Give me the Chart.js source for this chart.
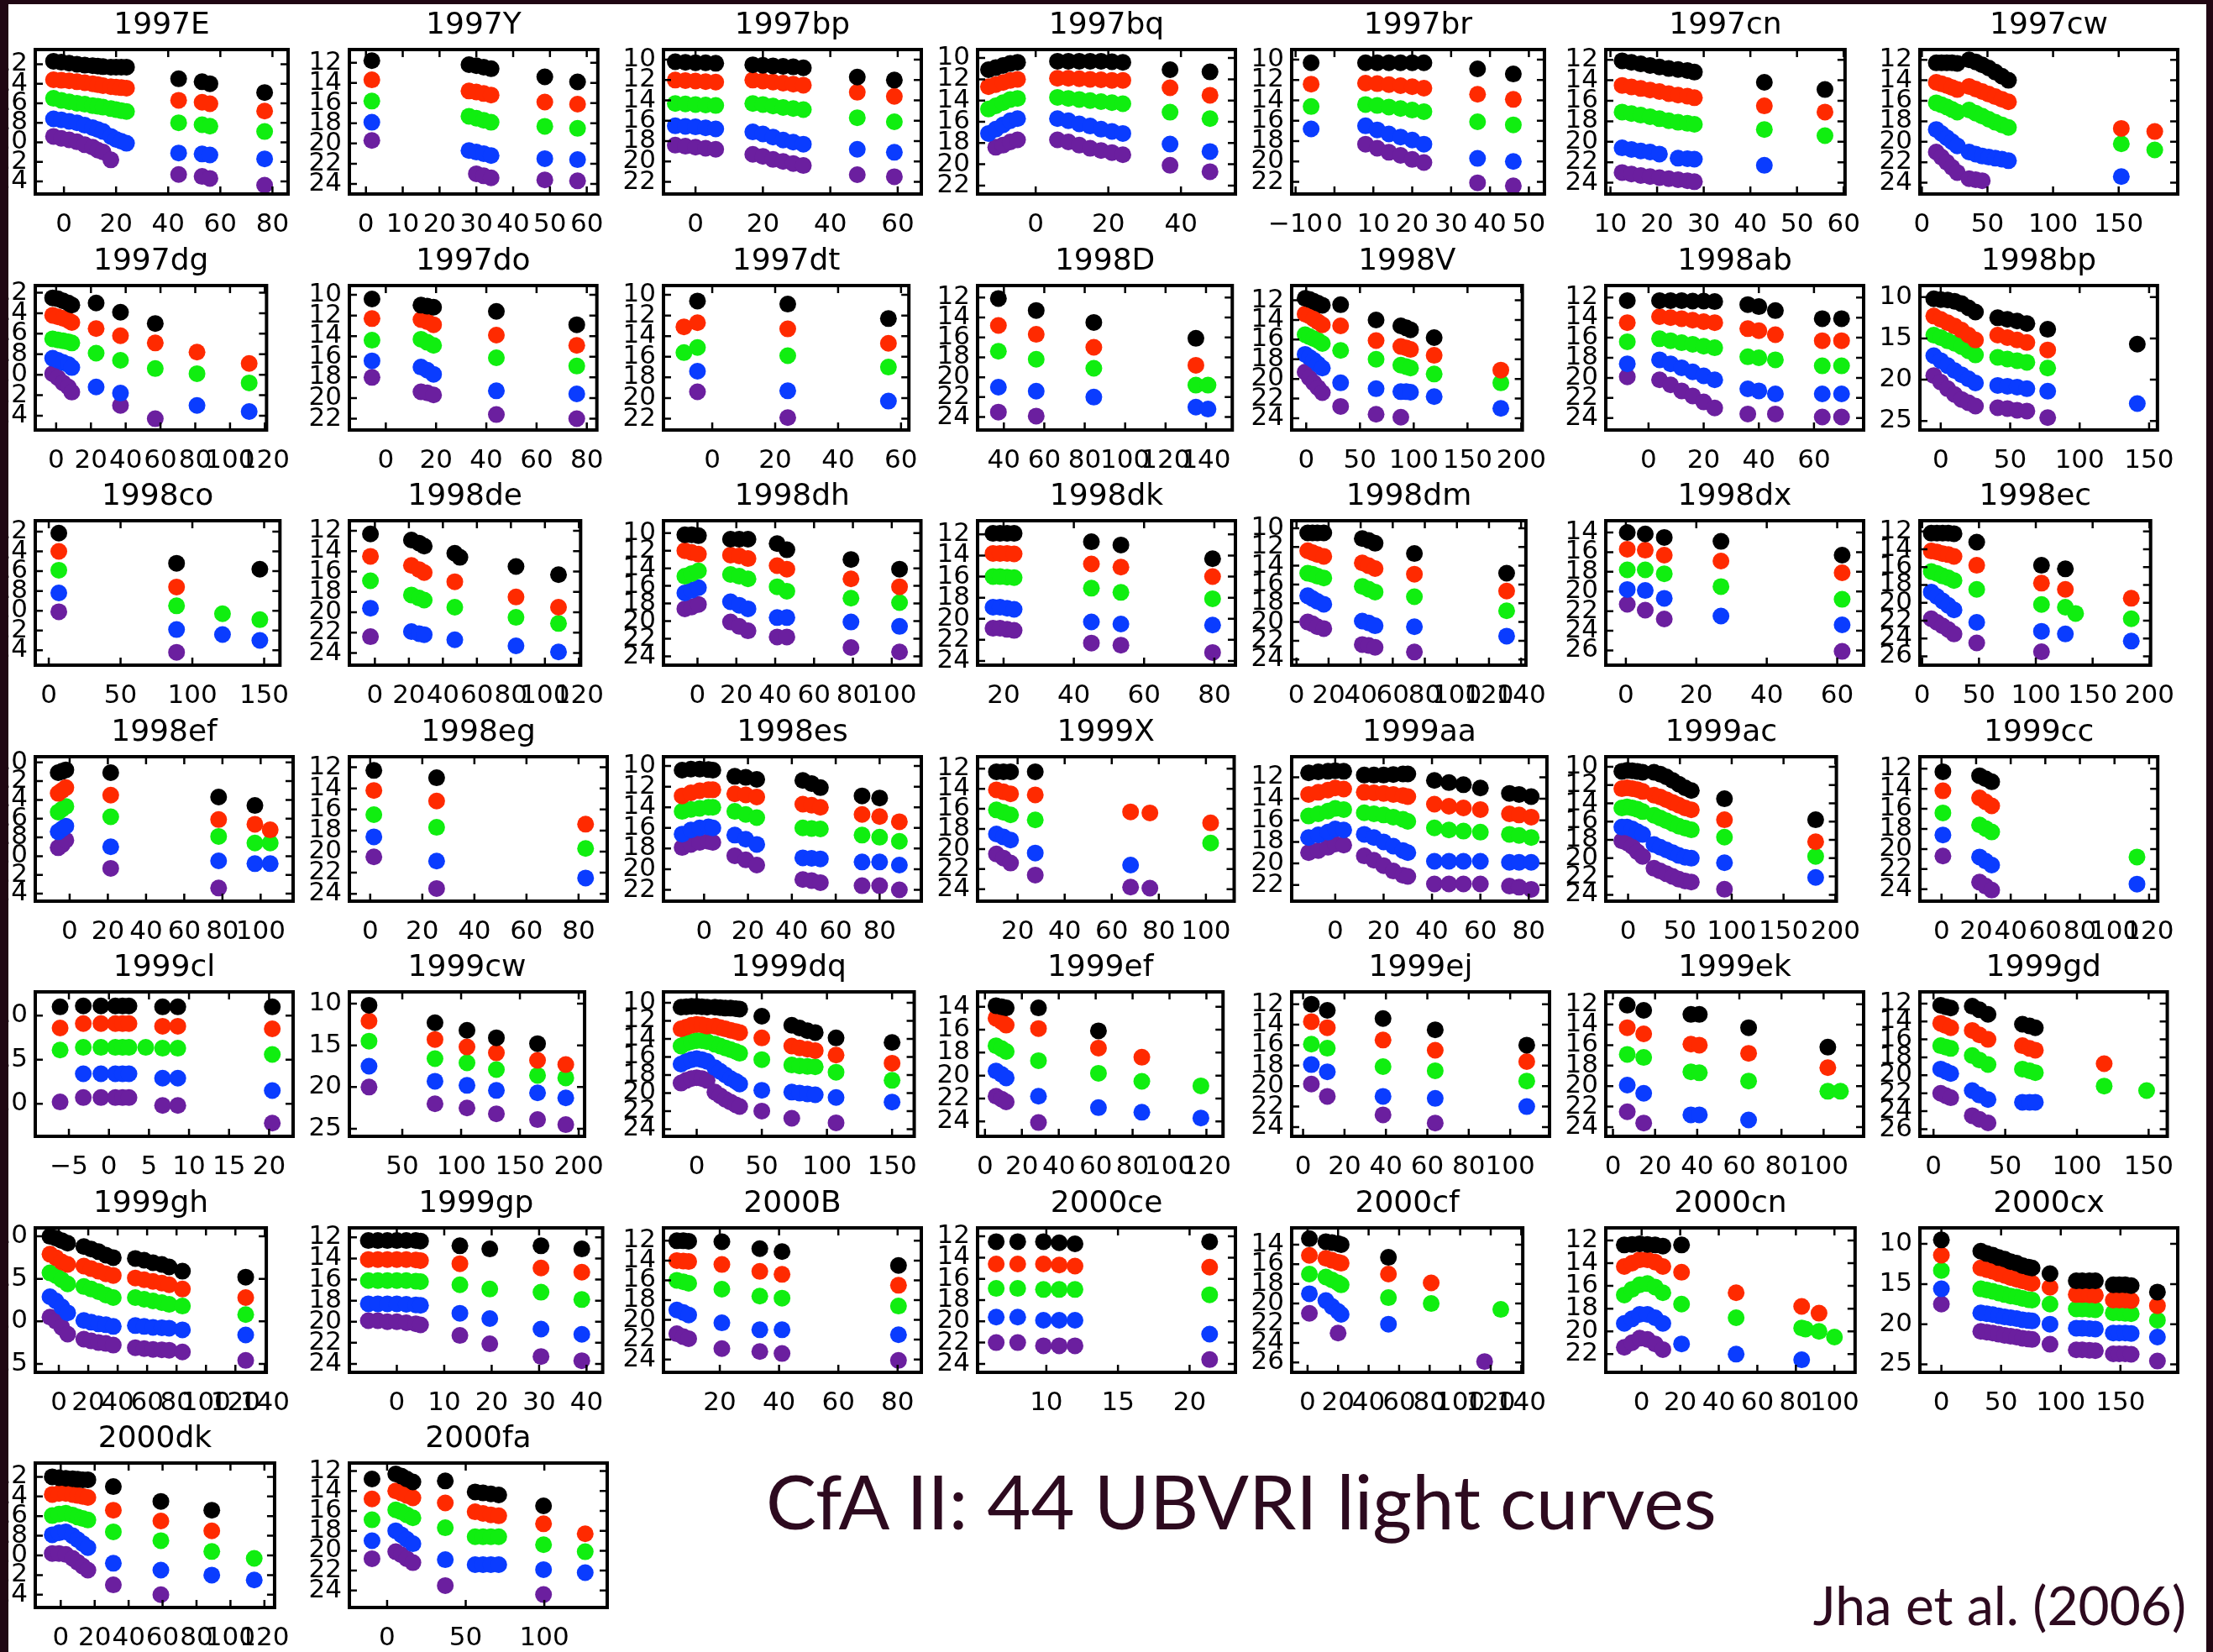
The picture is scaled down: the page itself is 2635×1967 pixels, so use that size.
<!DOCTYPE html>
<html>
<head>
<meta charset="utf-8">
<script src="https://cdn.jsdelivr.net/npm/chart.js@4.4.0/dist/chart.umd.min.js"></script>
<style>
  html, body { margin: 0; padding: 0; background: #200713; }
  body { width: 2635px; height: 1967px; position: relative; overflow: hidden; }
  #page { position: absolute; left: 10px; top: 5px; width: 2617px; height: 1962px; background: #fff; overflow: hidden; }
  #page canvas { position: absolute; }
  .caption { position: absolute; font-family: Lato, "Open Sans", sans-serif; color: #2d0a1f; white-space: nowrap; line-height: 1; }
</style>
</head>
<body>
<div id="page">
  <div class="caption" id="cap1" style="left:902px; top:1736px; font-size:90px;">CfA II: 44 UBVRI light curves</div>
  <div class="caption" id="cap2" style="right:24px; top:1874px; font-size:64px;">Jha et al. (2006)</div>
</div>
<script>
// light curves: [day, I(black), R(red), V(green), B(blue), U(purple)]
const _ = null;

const lc_1997E = [[-4,11.7,13.6,15.5,17.6,19.4],[-1,11.8,13.65,15.7,17.7,19.6],[2,11.9,13.7,15.85,17.85,19.75],[5,12.0,13.8,16.0,18.0,19.95],[8,12.1,13.9,16.1,18.25,20.25],[11,12.15,14.0,16.25,18.5,20.5],[13,12.2,14.1,16.3,18.7,20.8],[15,12.25,14.2,16.4,18.9,21.0],[18,12.3,14.3,16.55,19.4,21.8],[20,12.3,14.35,16.65,19.7,_],[22,12.3,14.4,16.75,19.9,_],[24,12.3,14.45,16.85,20.1,_],[44,13.5,15.7,18.0,21.1,23.3],[53,13.8,15.9,18.2,21.2,23.5],[56,14.0,16.05,18.35,21.3,23.7],[77,14.9,16.8,18.9,21.7,24.4]];
const lc_1997Y = [[1.6,11.8,13.7,15.8,17.9,19.7],[28,12.2,14.8,17.3,20.7,_],[30,12.3,14.9,17.5,20.85,23.0],[32,12.45,15.05,17.7,21.0,23.2],[34,12.6,15.2,17.9,21.2,23.4],[48.6,13.4,15.9,18.3,21.5,23.6],[57.5,13.9,16.1,18.5,21.6,23.7]];
const lc_1997bp = [[-6,10.2,12.0,14.3,16.5,18.4],[-3,10.25,12.05,14.35,16.55,18.5],[0,10.3,12.1,14.4,16.6,18.6],[3,10.3,12.15,14.45,16.7,18.7],[6,10.35,12.2,14.5,16.8,18.8],[17,10.5,12.0,14.3,17.1,19.3],[20,10.55,12.1,14.4,17.3,19.5],[23,10.6,12.2,14.55,17.6,19.8],[26,10.65,12.3,14.7,17.9,20.0],[29,10.7,12.4,14.8,18.1,20.2],[32,10.8,12.5,14.9,18.3,20.4],[48,11.7,13.2,15.7,18.8,21.3],[59,12.0,13.6,16.1,19.1,21.5]];
const lc_1997bq = [[-13,11.1,12.7,14.8,17.1,_],[-11,10.9,12.5,14.5,16.7,18.4],[-9,10.7,12.3,14.2,16.3,18.2],[-7,10.5,12.1,13.9,15.9,17.9],[-5,10.4,12.0,13.8,15.7,17.7],[6,10.3,11.9,13.7,15.7,17.7],[9,10.3,11.9,13.8,15.9,17.9],[12,10.3,11.95,13.9,16.2,18.2],[15,10.3,12.0,14.0,16.4,18.5],[18,10.3,12.05,14.1,16.7,18.7],[21,10.35,12.1,14.2,16.9,18.9],[24,10.4,12.1,14.3,17.1,19.1],[37,11.1,12.8,15.1,18.1,20.1],[48,11.3,13.5,15.7,18.8,20.7]];
const lc_1997br = [[-6,10.3,12.4,14.6,16.8,_],[8,10.3,12.3,14.4,16.5,18.3],[11,10.3,12.35,14.5,16.9,18.7],[14,10.3,12.45,14.65,17.3,19.1],[17,10.3,12.55,14.8,17.6,19.4],[20,10.3,12.65,14.95,17.9,19.8],[23,10.3,12.8,15.1,18.3,20.1],[36.8,10.9,13.4,16.1,19.7,22.1],[46,11.4,13.9,16.4,20.0,22.4]];
const lc_1997cn = [[12.5,12.1,14.5,17.1,20.6,23.0],[14.5,12.25,14.65,17.25,20.75,23.15],[16.5,12.4,14.8,17.4,20.9,23.3],[18.5,12.55,14.95,17.55,21.0,23.4],[20.5,12.7,15.1,17.75,21.2,23.5],[22.5,12.85,15.3,17.95,_,23.6],[24.5,12.95,15.45,18.1,21.6,23.7],[26.5,13.05,15.55,18.2,21.65,23.8],[28,13.2,15.7,18.3,21.7,23.9],[43,14.2,16.5,18.8,22.3,_],[56,14.9,17.1,19.4,_,_]];
const lc_1997cw = [[11,12.3,14.2,16.2,18.8,21.0],[15,12.3,14.35,16.4,19.2,21.5],[19,12.3,14.5,16.6,19.6,22.0],[23,12.3,14.7,16.85,20.0,22.5],[27,12.35,14.9,17.1,20.4,23.0],[36,12.0,14.6,16.9,21.0,23.6],[41,12.2,14.85,17.2,21.2,23.7],[46,12.5,15.1,17.5,21.4,23.8],[51,12.8,15.35,17.8,21.5,_],[56,13.2,15.6,18.1,21.6,_],[61,13.6,15.85,18.35,21.7,_],[66,14.0,16.1,18.6,21.85,_],[152,_,18.7,20.2,23.4,_],[177.5,_,19.0,20.8,_,_]];

const lc_1997dg = [[-2,12.5,14.2,16.5,18.4,19.9],[1,12.6,14.35,16.6,18.6,20.3],[4,12.8,14.5,16.7,18.8,20.8],[7,13.0,14.7,16.8,19.0,21.2],[9,13.2,14.9,16.9,19.3,21.7],[23,13.0,15.5,17.9,21.2,_],[37,13.9,16.2,18.6,21.8,23.0],[57,15.0,16.9,19.4,_,24.3],[81,_,17.8,19.9,23.0,_],[111,_,18.9,20.8,23.6,_]];
const lc_1997do = [[-5.5,10.4,12.3,14.4,16.4,18.0],[14,11.0,12.4,14.3,17.0,19.4],[16.5,11.1,12.6,14.6,17.3,19.5],[19,11.2,12.9,14.9,17.7,19.7],[44,11.6,13.9,16.1,19.3,21.6],[76,12.9,14.9,16.9,19.6,22.0]];
const lc_1997dt = [[-9,_,13.1,15.6,_,_],[-4.7,10.6,12.7,15.1,17.4,19.4],[24,10.9,13.3,15.9,19.3,21.9],[56,12.3,14.7,17.0,20.3,_]];
const lc_1998D = [[37.3,12.1,14.8,17.4,21.0,23.5],[56,13.3,15.7,18.2,21.4,23.9],[84.5,14.5,17.0,19.1,22.0,_],[135,16.1,18.8,20.8,23.0,_],[141,_,_,20.8,23.2,_]];
const lc_1998V = [[-1,11.8,13.4,15.5,17.5,19.3],[3,11.9,13.6,15.7,17.8,19.9],[7,12.1,13.9,15.9,18.1,20.4],[11,12.3,14.2,16.1,18.5,20.9],[15,12.5,14.5,16.4,18.9,21.4],[32,12.45,14.6,17.1,20.4,22.8],[65,14.0,16.1,18.0,21.0,23.6],[88,14.6,16.7,18.6,21.3,23.9],[93,14.8,16.85,18.75,21.3,_],[97,15.0,17.0,18.9,21.35,_],[119,15.8,17.6,19.5,21.8,_],[181,_,19.1,20.4,23.0,_]];
const lc_1998ab = [[-7.7,12.3,14.5,16.4,18.6,19.9],[4,12.3,13.9,16.1,18.2,20.2],[8,12.3,14.0,16.3,18.6,20.7],[12,12.3,14.1,16.5,19.0,21.3],[16,12.35,14.25,16.65,19.4,21.8],[20,12.35,14.4,16.85,19.8,22.4],[24,12.4,14.5,17.0,20.2,23.0],[36,12.7,15.1,17.9,21.1,23.6],[40,12.9,15.3,18.0,21.3,_],[46,13.3,15.7,18.2,21.6,23.6],[63,14.1,16.3,18.8,21.6,23.9],[70,14.1,16.3,18.8,21.6,23.9]];
const lc_1998bp = [[-5,10.2,12.3,14.6,17.1,19.5],[0,10.3,12.7,14.9,17.7,20.3],[5,10.35,13.1,15.3,18.3,21.1],[10,10.5,13.5,15.6,18.9,21.8],[15,10.8,14.0,16.0,19.4,22.4],[20,11.3,14.6,16.5,19.9,22.8],[25,11.8,15.2,17.0,20.4,23.2],[41,12.5,14.6,17.3,20.7,23.4],[48,12.7,14.9,17.5,20.8,23.5],[55,12.9,15.2,17.7,20.9,23.7],[62,13.2,15.5,17.9,21.1,23.8],[77,13.9,16.4,18.6,21.4,24.6],[141.5,15.7,_,_,22.9,_]];

const lc_1998co = [[7,12.15,14.0,15.9,18.2,20.1],[89,15.2,17.6,19.5,21.9,24.2],[121,_,_,20.3,22.4,_],[147,15.8,_,20.9,23.0,_]];
const lc_1998de = [[-2.6,12.3,14.5,16.9,19.6,22.4],[21.5,12.9,15.4,18.3,21.9,_],[26,13.2,15.8,18.6,22.1,_],[29,13.5,16.1,18.8,22.2,_],[47,14.2,17.0,19.5,22.7,_],[50,14.6,_,_,_,_],[83,15.5,18.5,20.5,23.3,_],[108,16.3,19.5,21.1,23.9,_]];
const lc_1998dh = [[-6.5,10.2,12.0,14.9,16.8,18.6],[-3,10.2,12.2,14.6,16.5,18.4],[0.5,10.3,12.4,14.3,16.2,18.1],[17,10.7,12.5,14.7,17.8,20.1],[21.5,10.7,12.6,14.9,18.2,20.6],[26,10.7,12.9,15.2,18.6,21.1],[41,11.2,13.7,16.1,19.6,21.8],[46,11.9,14.1,16.6,19.6,21.8],[79,13.0,15.2,17.4,20.1,23.0],[104,14.1,16.1,17.9,20.6,23.5]];
const lc_1998dk = [[17,11.9,13.8,16.0,18.9,20.9],[19,11.9,13.8,16.0,18.9,20.9],[21,11.9,13.8,16.05,19.0,21.0],[23,11.9,13.85,16.1,19.1,21.1],[45,12.7,14.8,17.1,20.3,22.3],[53.4,13.0,15.1,17.5,20.5,22.5],[79.5,14.3,16.0,18.1,20.6,23.2]];
const lc_1998dm = [[7,10.5,12.4,14.8,17.2,20.0],[10,10.5,12.6,14.9,17.5,20.2],[13,10.5,12.8,15.1,17.8,20.5],[17,10.5,13.0,15.3,18.1,20.7],[41,11.1,13.7,16.2,19.9,22.4],[45,11.3,14.0,16.5,20.1,22.5],[49,11.6,14.3,16.8,20.4,22.7],[73.5,12.7,14.9,17.3,20.5,23.2],[131,14.8,16.7,18.8,21.5,_]];
const lc_1998dx = [[0.4,14.0,15.7,17.8,19.8,21.3],[5.5,14.15,15.8,17.8,19.9,21.9],[10.9,14.5,16.3,18.2,20.7,22.8],[27,14.9,16.9,19.5,22.5,_],[61.4,16.3,18.1,20.8,23.4,26.1]];
const lc_1998ec = [[8,12.2,14.2,16.5,18.8,21.8],[13,12.2,14.3,16.7,19.3,22.2],[18,12.2,14.5,17.0,19.8,22.6],[23,12.2,14.6,17.2,20.3,23.0],[28,12.25,14.8,17.5,20.8,23.5],[48,13.2,15.8,18.5,22.2,24.5],[105,15.8,17.8,20.2,23.2,25.5],[126,16.2,18.5,20.5,23.5,_],[135,_,_,21.2,_,_],[184,_,19.5,21.8,24.3,_]];

const lc_1998ef = [[-6,11.1,13.3,15.3,17.4,19.1],[-4,10.95,13.0,15.0,17.1,18.8],[-2,10.8,12.7,14.7,16.8,18.3],[21.5,11.1,13.5,15.8,19.0,21.3],[78,13.7,16.1,17.9,20.5,23.4],[97,14.6,16.6,18.6,20.8,_],[105,_,17.2,18.6,20.8,_]];
const lc_1998eg = [[1.4,12.3,14.2,16.5,18.6,20.5],[25.5,13.0,15.2,17.7,20.9,23.5],[82.7,_,17.4,19.7,22.5,_]];
const lc_1998es = [[-10,10.4,12.9,14.4,16.6,17.9],[-6,10.3,12.6,14.2,16.2,17.6],[-2,10.3,12.4,14.1,16.0,17.4],[2,10.35,12.3,14.0,15.9,17.3],[4,10.4,12.3,14.0,16.0,17.4],[14,11.0,12.7,14.4,16.7,18.7],[19,11.1,12.8,14.7,17.1,19.1],[24,11.3,13.0,15.0,17.6,19.6],[45,11.4,13.7,16.0,18.9,21.0],[49,11.7,13.8,16.05,18.95,21.1],[53,12.1,14.0,16.1,19.0,21.3],[72,12.9,14.7,16.7,19.3,21.6],[80,13.1,14.9,16.9,19.3,21.6],[89,_,15.4,17.3,19.6,22.0]];
const lc_1999X = [[11,12.3,14.1,16.1,18.5,20.5],[14,12.3,14.3,16.35,18.8,20.9],[17,12.3,14.5,16.6,19.1,21.4],[27.5,12.3,14.6,17.1,20.4,22.6],[68,_,16.3,_,21.6,23.8],[76.2,_,16.4,_,_,23.9],[102,_,17.4,19.4,_,_]];
const lc_1999aa = [[-11,11.6,13.6,15.6,17.6,19.0],[-7,11.5,13.4,15.4,17.35,18.8],[-3,11.45,13.2,15.15,17.1,18.5],[0,11.4,13.0,14.9,16.8,18.2],[3.5,11.45,13.1,15.0,16.9,18.3],[12,11.8,13.4,15.3,17.3,19.3],[16,11.8,13.45,15.4,17.6,19.7],[20,11.8,13.5,15.5,18.0,20.2],[24,11.75,13.6,15.7,18.4,20.7],[28,11.7,13.7,15.9,18.8,21.1],[30,11.7,13.8,16.1,19.0,21.2],[41,12.3,14.5,16.7,19.8,21.9],[47,12.5,14.7,16.9,19.8,21.9],[53,12.7,14.85,17.0,19.8,21.9],[60,13.0,15.0,17.1,19.8,21.9],[72,13.5,15.4,17.3,19.9,22.1],[76,13.6,15.5,17.4,19.9,22.2],[81,13.8,15.7,17.6,19.9,22.4]];
const lc_1999ac = [[-6,10.5,12.4,14.5,16.6,18.1],[-1,10.4,12.3,14.4,16.6,18.3],[4,10.45,12.4,14.5,16.8,18.7],[9,10.5,12.5,14.65,17.1,19.3],[14,10.6,12.7,14.9,17.4,19.8],[25,10.6,13.1,15.3,18.5,21.1],[31,10.8,13.3,15.6,18.8,21.4],[37,11.1,13.6,15.9,19.1,21.7],[43,11.5,13.9,16.2,19.4,22.0],[49,11.9,14.2,16.5,19.7,22.3],[55,12.3,14.5,16.7,19.9,22.5],[61,12.6,14.7,16.9,20.0,22.6],[93,13.5,15.8,17.7,20.5,23.4],[181,15.8,18.2,19.8,22.1,_]];
const lc_1999cc = [[0.8,12.3,14.2,16.4,18.6,20.7],[22,12.7,14.9,17.6,20.8,23.3],[25.5,13.0,15.3,17.95,21.2,23.7],[29,13.3,15.7,18.3,21.6,24.1],[113,_,_,20.8,23.5,_]];

const lc_1999cl = [[-6.1,9.0,11.4,13.9,_,19.8],[-3.2,8.9,10.9,13.6,16.6,19.3],[-1,8.9,10.9,13.6,16.6,19.3],[0.8,8.9,10.9,13.6,16.6,19.3],[1.7,8.9,10.9,13.6,16.6,19.3],[2.5,8.9,10.9,13.6,16.6,19.3],[4.6,_,_,13.6,_,_],[6.7,9.0,11.2,13.7,17.1,20.2],[8.6,9.0,11.2,13.7,17.1,20.2],[20.4,9.0,11.5,14.4,18.5,22.2]];
const lc_1999cw = [[21.7,10.2,12.1,14.5,17.5,20.0],[77.8,12.3,14.3,16.6,19.3,22.0],[105,13.2,15.2,17.1,19.8,22.5],[130,14.1,15.9,17.9,20.4,23.2],[165,14.8,16.8,18.6,20.7,23.9],[189,_,17.3,18.9,21.3,24.5]];
const lc_1999dq = [[-12,10.5,12.9,14.8,16.8,18.9],[-8,10.45,12.7,14.5,16.5,18.6],[-4,10.4,12.5,14.3,16.3,18.4],[0,10.4,12.4,14.2,16.2,18.3],[4,10.45,12.45,14.2,16.3,18.4],[8,10.5,12.6,14.3,16.5,18.6],[14,10.5,12.6,14.6,17.2,19.9],[18,10.55,12.75,14.8,17.6,20.3],[22,10.6,12.9,15.0,18.0,20.7],[26,10.6,13.05,15.2,18.4,21.0],[30,10.65,13.2,15.4,18.7,21.3],[33,10.7,13.3,15.6,19.0,21.5],[50,11.5,13.9,16.3,19.7,22.0],[73,12.5,14.8,16.9,19.9,22.8],[79,12.8,15.0,17.0,20.0,_],[85,13.1,15.15,17.05,20.1,_],[91,13.3,15.3,17.1,20.2,_],[107,13.9,15.8,17.7,20.5,23.3],[150,14.4,16.7,18.6,21.0,_]];
const lc_1999ef = [[6,13.9,15.0,17.4,19.6,21.8],[9,14.0,15.3,17.65,19.9,22.05],[11.5,14.1,15.6,17.9,20.2,22.3],[29,14.1,15.9,18.7,21.8,24.1],[61.5,16.1,17.6,19.8,22.8,_],[85,_,18.4,20.5,23.2,_],[117,_,_,20.9,23.7,_]];
const lc_1999ej = [[4,12.0,13.7,15.9,17.9,19.8],[11.7,12.6,14.3,16.3,18.6,21.0],[38.6,13.4,15.5,18.1,21.0,22.8],[63.8,14.5,16.5,18.5,21.2,23.6],[108,16.0,17.6,19.5,22.0,_]];
const lc_1999ek = [[6.8,12.1,14.3,16.9,19.9,22.5],[14.6,12.6,14.9,17.2,20.7,23.6],[37,13.0,15.9,18.6,22.8,_],[41,13.0,16.0,18.7,22.8,_],[64.4,14.3,16.8,19.5,23.3,_],[102,16.2,18.2,20.5,_,_],[108,_,_,20.5,_,_]];
const lc_1999gd = [[5,12.2,14.2,16.7,19.3,22.0],[8.5,12.35,14.45,16.85,19.55,22.25],[12,12.5,14.7,17.0,19.8,22.5],[27,12.3,15.0,17.8,21.7,24.5],[32,12.7,15.5,18.3,22.2,24.9],[38,13.2,16.0,18.8,22.7,25.3],[62,14.3,16.7,19.3,23.0,_],[67,14.5,17.0,19.5,23.0,_],[71,14.7,17.2,19.7,23.0,_],[119,_,18.7,21.2,_,_],[148.6,_,_,21.7,_,_]];

const lc_1999gh = [[-6,10.0,12.1,14.3,17.1,19.5],[-2,10.2,12.5,14.6,17.6,20.0],[2,10.5,13.0,15.1,18.3,20.7],[6,10.8,13.3,15.6,19.0,21.5],[17,11.2,13.5,15.9,19.9,22.1],[22,11.5,13.8,16.2,20.1,22.3],[27,11.8,14.1,16.5,20.3,22.5],[32,12.2,14.4,16.9,20.4,22.6],[37,12.5,14.6,17.2,20.6,22.8],[52,12.6,14.9,17.2,20.5,23.1],[58,12.8,15.1,17.4,20.6,23.2],[64,13.1,15.3,17.6,20.7,23.3],[70,13.3,15.5,17.8,20.75,23.35],[75,13.6,15.7,18.0,20.8,23.4],[84,14.1,16.2,18.2,21.0,23.6],[127,14.8,17.2,19.2,21.6,24.6]];
const lc_1999gp = [[-6,12.3,14.1,16.1,18.3,19.9],[-4,12.3,14.1,16.1,18.3,19.9],[-2,12.3,14.1,16.1,18.3,20.0],[0,12.3,14.1,16.1,18.3,20.0],[2,12.3,14.1,16.1,18.35,20.1],[4,12.3,14.15,16.15,18.4,20.2],[5,12.35,14.2,16.2,18.45,20.3],[13.3,12.8,14.5,16.5,19.2,21.3],[19.6,13.1,_,16.9,19.7,22.1],[30.4,12.8,14.9,17.2,20.7,23.3],[39,13.1,15.3,17.9,21.2,23.7]];
const lc_2000B = [[5.5,12.0,14.0,16.0,19.0,21.4],[7.7,12.0,14.05,16.15,19.25,21.7],[9.5,12.05,14.1,16.3,19.5,21.9],[20.7,12.1,14.4,16.9,20.3,22.9],[33.5,12.8,15.1,17.6,21.0,23.2],[41,13.1,15.4,17.8,21.0,23.4],[80.3,14.5,16.5,18.6,21.5,24.1]];
const lc_2000ce = [[6.5,12.5,14.6,16.9,19.6,22.0],[8.0,12.5,14.6,16.9,19.6,22.0],[9.8,12.5,14.6,17.0,19.9,22.3],[10.9,12.6,14.7,17.0,19.9,22.3],[12.0,12.7,14.8,17.0,19.9,22.3],[21.4,12.5,14.9,17.5,21.2,23.6]];
const lc_2000cf = [[1.2,13.4,15.1,17.0,19.0,21.0],[12,13.7,15.4,17.3,19.7,_],[16,13.8,15.6,17.6,20.3,_],[20,13.9,15.8,17.9,20.8,23.0],[22,14.0,15.9,18.1,21.1,_],[53,15.3,17.0,19.4,22.1,_],[81,_,17.9,20.0,_,_],[116,_,_,_,_,25.9],[126.6,_,_,20.6,_,_]];
const lc_2000cn = [[-9,12.4,14.3,16.8,19.3,21.4],[-5,12.35,14.0,16.3,18.9,21.0],[-1,12.3,13.7,15.9,18.5,20.6],[3,12.35,13.7,15.8,18.5,20.7],[7,12.4,13.9,16.1,18.8,21.1],[11,12.5,14.3,16.6,19.3,21.6],[20.7,12.4,14.8,17.6,21.1,_],[49,_,16.6,18.8,22.0,_],[83,_,17.8,19.7,22.5,_],[85,_,_,19.8,_,_],[92,_,18.4,20.0,_,_],[100,_,_,20.5,_,_]];
const lc_2000cx = [[0,9.5,11.4,13.3,15.6,17.5],[33,10.9,13.0,15.6,18.6,20.9],[38,11.2,13.2,15.75,18.7,21.0],[43,11.4,13.4,15.9,18.8,21.1],[48,11.7,13.7,16.1,18.95,21.25],[53,11.9,13.9,16.3,19.1,21.4],[58,12.2,14.2,16.5,19.2,21.5],[63,12.4,14.4,16.6,19.3,21.6],[68,12.7,14.6,16.8,19.45,21.75],[73,12.9,14.8,16.95,19.55,21.85],[76,13.0,14.9,17.0,19.6,21.9],[91,13.7,15.4,17.5,20.0,22.5],[113,14.6,16.3,18.1,20.5,23.2],[118,14.6,16.3,18.1,20.5,23.2],[124,14.6,16.35,18.15,20.55,23.25],[129,14.6,16.4,18.2,20.6,23.3],[144,15.1,17.0,18.6,21.1,23.7],[149,15.1,17.0,18.6,21.1,23.7],[154,15.1,17.0,18.65,21.1,23.7],[159,15.2,17.05,18.7,21.15,23.75],[181,16.0,17.7,19.5,21.6,24.6]];

const lc_2000dk = [[-5,12.0,13.8,15.95,17.9,19.8],[-1,12.1,13.7,15.8,17.7,19.8],[3,12.15,13.7,15.7,17.6,19.9],[7,12.2,13.8,15.9,18.0,20.3],[10,12.25,13.9,16.1,18.4,20.7],[13,12.3,14.0,16.25,18.8,21.1],[16,12.3,14.1,16.4,19.2,21.5],[31,13.0,15.4,17.6,20.8,23.0],[59,14.5,16.5,18.5,21.5,24.0],[89,15.4,17.5,19.6,22.0,_],[114,_,_,20.3,22.5,_]];
const lc_2000fa = [[-9.6,12.8,14.8,16.9,19.0,20.8],[5.5,12.3,14.0,15.9,18.0,20.1],[9,12.5,14.2,16.1,18.4,20.4],[12.5,12.8,14.45,16.4,18.85,20.8],[16.4,13.1,14.7,16.7,19.3,21.2],[37,13.0,15.2,17.7,20.9,23.5],[56,14.1,16.1,18.6,21.4,_],[61,14.2,16.25,18.6,21.4,_],[66,14.3,16.4,18.6,21.4,_],[71,14.4,16.5,18.6,21.4,_],[99.5,15.5,17.3,19.4,21.9,24.4],[126,_,18.3,20.1,22.2,_]];

// panel order, row by row
const snNames = ['1997E','1997Y','1997bp','1997bq','1997br','1997cn','1997cw',
  '1997dg','1997do','1997dt','1998D','1998V','1998ab','1998bp',
  '1998co','1998de','1998dh','1998dk','1998dm','1998dx','1998ec',
  '1998ef','1998eg','1998es','1999X','1999aa','1999ac','1999cc',
  '1999cl','1999cw','1999dq','1999ef','1999ej','1999ek','1999gd',
  '1999gh','1999gp','2000B','2000ce','2000cf','2000cn','2000cx',
  '2000dk','2000fa'];
const curves = [lc_1997E,lc_1997Y,lc_1997bp,lc_1997bq,lc_1997br,lc_1997cn,lc_1997cw,
  lc_1997dg,lc_1997do,lc_1997dt,lc_1998D,lc_1998V,lc_1998ab,lc_1998bp,
  lc_1998co,lc_1998de,lc_1998dh,lc_1998dk,lc_1998dm,lc_1998dx,lc_1998ec,
  lc_1998ef,lc_1998eg,lc_1998es,lc_1999X,lc_1999aa,lc_1999ac,lc_1999cc,
  lc_1999cl,lc_1999cw,lc_1999dq,lc_1999ef,lc_1999ej,lc_1999ek,lc_1999gd,
  lc_1999gh,lc_1999gp,lc_2000B,lc_2000ce,lc_2000cf,lc_2000cn,lc_2000cx,
  lc_2000dk,lc_2000fa];

// axis ranges (days, magnitudes top->bottom)
const xRanges = [[-11,86],[-4.5,63],[-9.5,67],[-16,55],[-11,54],[9,60.3],[-1.5,195],
  [-12,121],[-14.5,84],[-15.5,62.5],[27,153],[-13.5,201],[-15.5,78],[-15,156],
  [-9.4,161],[-15,121],[-17.5,115],[12.6,86],[-3,143],[-5.7,67.5],[-2,201],
  [-18,117],[-8,91],[-18.5,99],[3,112],[-18,87.5],[-21.5,201],[-12.5,125],
  [-9.2,23],[5,205],[-25.5,167],[-4,129],[-5.5,119],[-3.4,119],[-9.5,163],
  [-16,141],[-10,43.4],[1,88],[5.2,23.2],[-10.4,141],[-18.6,110.7],[-18,198],
  [-15,126],[-24,140]];
const yRanges = [[10.5,25.3],[10.7,25],[9,23.2],[9.2,22.8],[9,23.2],[11,25.1],[11,25.1],
  [11.3,25.4],[9.1,23.1],[9.1,23.1],[10.8,25.3],[10.5,25.2],[10.8,25.2],[8.6,26.1],
  [10.9,25.5],[11,25.2],[8.6,25],[10.7,24.4],[9.2,24.6],[12.8,27.5],[10.8,27],
  [9.4,24.8],[11,24.7],[9.1,23.1],[10.8,25.2],[10.1,23.5],[8.9,24.7],[10.8,25.2],
  [7.3,23.7],[8.6,25.9],[8.8,24.8],[12.7,25.3],[10.8,24.9],[10.8,24.9],[10.7,26.8],
  [9,26],[11.1,24.8],[10.7,25.3],[11.2,24.8],[12.3,27],[10.9,23.6],[8,26],
  [10.6,25.3],[11.2,25.7]];

// tick labels
const X20a = [0,20,40,60,80], X20b = [0,20,40,60], X20c = [0,20,40,60,80,100],
      X20d = [0,20,40,60,80,100,120], X20e = [0,20,40,60,80,100,120,140],
      X50a = [0,50,100,150], X50b = [0,50,100,150,200];
const xTicks = [X20a,[0,10,20,30,40,50,60],X20b,[0,20,40],[-10,0,10,20,30,40,50],[10,20,30,40,50,60],X50a,
  X20d,X20a,X20b,[40,60,80,100,120,140],X50b,X20b,X50a,
  X50a,X20d,X20c,[20,40,60,80],X20e,X20b,X50b,
  X20c,X20a,X20a,[20,40,60,80,100],X20a,X50b,X20d,
  [-5,0,5,10,15,20],[50,100,150,200],X50a,X20d,X20c,X20c,X50a,
  X20e,[0,10,20,30,40],[20,40,60,80],[10,15,20],X20e,X20c,X50a,
  X20d,[0,50,100]];
const Y10_22 = [10,12,14,16,18,20,22], Y12_24 = [12,14,16,18,20,22,24], Y10_24 = [10,12,14,16,18,20,22,24],
      Y12_22 = [12,14,16,18,20,22], Y12_26 = [12,14,16,18,20,22,24,26], Y14_26 = [14,16,18,20,22,24,26],
      Y14_24 = [14,16,18,20,22,24], Y5 = [10,15,20,25];
const yTicks = [Y12_24,Y12_24,Y10_22,Y10_22,Y10_22,Y12_24,Y12_24,
  Y12_24,Y10_22,Y10_22,Y12_24,Y12_24,Y12_24,Y5,
  Y12_24,Y12_24,Y10_24,Y12_24,Y10_24,Y14_26,Y12_26,
  Y10_24,Y12_24,Y10_22,Y12_24,Y12_22,Y10_24,Y12_24,
  [10,15,20],Y5,Y10_24,Y14_24,Y12_24,Y12_24,Y12_26,
  Y5,Y12_24,Y12_24,Y12_24,Y14_26,Y12_22,Y5,
  Y12_24,Y12_24];

const bandNames = ['I','R','V','B','U'];
const bandColors = ['#000000','#ff2a00','#10ee10','#0a3cff','#6b1f9f'];

// layout of the grid
const PAGE_L = 10, PAGE_T = 5;
const COL0 = 42, COL_STEP = 374, BOX_W = 307, BOX_H = 172;
const ROW0 = 32, ROW_STEP = 280.5;
const Y_AXIS_W = 80, TOP_PAD = 54, X_AXIS_H = 70, RIGHT_PAD = 14;

Chart.defaults.font.family = '"DejaVu Sans", sans-serif';
Chart.defaults.font.size = 31;
Chart.defaults.color = '#000';

const fmt = v => (v < 0 ? '\u2212' + Math.abs(v) : String(v));

// box with inward ticks on all four sides, and the panel title
const framePlugin = {
  id: 'frame',
  afterDatasetsDraw(chart, args, opts) {
    const { ctx, chartArea: a, scales: { x, y } } = chart;
    ctx.save();
    ctx.strokeStyle = '#000';
    ctx.lineWidth = 2.5;
    ctx.beginPath();
    x.ticks.forEach(t => {
      const px = x.getPixelForValue(t.value);
      ctx.moveTo(px, a.bottom); ctx.lineTo(px, a.bottom - 9);
      ctx.moveTo(px, a.top); ctx.lineTo(px, a.top + 9);
    });
    y.ticks.forEach(t => {
      const py = y.getPixelForValue(t.value);
      ctx.moveTo(a.left, py); ctx.lineTo(a.left + 9, py);
      ctx.moveTo(a.right, py); ctx.lineTo(a.right - 9, py);
    });
    ctx.stroke();
    ctx.lineWidth = 4;
    ctx.strokeRect(a.left, a.top, a.right - a.left, a.bottom - a.top);
    ctx.fillStyle = '#000';
    ctx.font = '36px "DejaVu Sans"';
    ctx.textAlign = 'center';
    ctx.textBaseline = 'middle';
    ctx.fillText(opts.title, (a.left + a.right) / 2, a.top - 28);
    ctx.restore();
  }
};

const page = document.getElementById('page');

snNames.forEach((name, i) => {
  const row = Math.floor(i / 7), col = i % 7;
  const boxLeft = COL0 + COL_STEP * col;
  const titleY = ROW0 + ROW_STEP * row;
  const cv = document.createElement('canvas');
  cv.width = Y_AXIS_W + BOX_W + RIGHT_PAD;
  cv.height = TOP_PAD + BOX_H + X_AXIS_H;
  cv.style.left = (boxLeft - Y_AXIS_W - PAGE_L) + 'px';
  cv.style.top = Math.round(titleY - 27 - PAGE_T) + 'px';
  page.appendChild(cv);

  const rows = curves[i];
  const datasets = bandNames.map((b, j) => ({
    label: b,
    data: rows.filter(r => r[j + 1] !== null).map(r => ({ x: r[0], y: r[j + 1] })),
    backgroundColor: bandColors[j],
    borderWidth: 0,
    pointRadius: 10,
    pointHoverRadius: 10
  }));

  new Chart(cv, {
    type: 'scatter',
    data: { datasets },
    options: {
      responsive: false,
      animation: false,
      devicePixelRatio: 1,
      layout: { padding: { top: TOP_PAD, right: RIGHT_PAD, left: 0, bottom: 0 }, autoPadding: false },
      plugins: { legend: { display: false }, tooltip: { enabled: false }, frame: { title: name } },
      scales: {
        x: {
          type: 'linear', min: xRanges[i][0], max: xRanges[i][1],
          grid: { display: false, drawTicks: false }, border: { display: false },
          afterBuildTicks: s => { s.ticks = xTicks[i].map(v => ({ value: v })); },
          afterFit: s => { s.height = X_AXIS_H; },
          ticks: { autoSkip: false, maxRotation: 0, minRotation: 0, padding: 18, callback: fmt }
        },
        y: {
          type: 'linear', reverse: true, min: yRanges[i][0], max: yRanges[i][1],
          grid: { display: false, drawTicks: false }, border: { display: false },
          afterBuildTicks: s => { s.ticks = yTicks[i].map(v => ({ value: v })); },
          afterFit: s => { s.width = Y_AXIS_W; },
          ticks: { autoSkip: false, padding: 9, callback: fmt }
        }
      }
    },
    plugins: [framePlugin]
  });
});
</script>
</body>
</html>
